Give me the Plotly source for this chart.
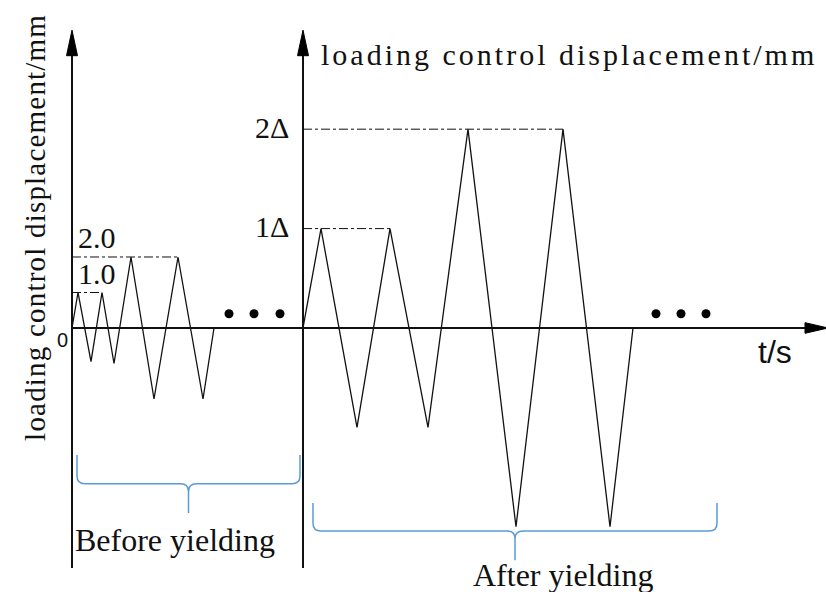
import plotly.graph_objects as go

# ---- loading protocol (schematic time axis, displacement in mm) ----
# before yielding: displacement-controlled cycles at 1.0 mm and 2.0 mm
pre_t = [0.0, 0.6, 1.9, 3.0, 4.2, 5.9, 8.2, 10.6, 13.1, 14.2]
pre_d = [0.0, 1.0, -0.95, 1.0, -1.0, 2.0, -2.0, 2.0, -2.0, 0.0]

# after yielding: cycles at multiples of the yield displacement Δ
DELTA = 2.8  # mm
post_t = [23.1, 24.9, 28.5, 31.8, 35.6, 39.6, 44.4, 49.1, 53.8, 56.1]
post_m = [0.0, 1.0, -1.0, 1.0, -1.0, 2.0, -2.0, 2.0, -2.0, 0.0]
post_d = [m * DELTA for m in post_m]

pre_levels = [1.0, 2.0]
pre_level_text = ["1.0", "2.0"]
post_levels = [1.0, 2.0]
post_level_text = ["1Δ", "2Δ"]

# continuation dots after each stage
pre_dots_t = [15.7, 18.2, 20.8]
post_dots_t = [58.4, 60.9, 63.4]
DOTS_Y = 0.4

# stages marked with braces below the curve
stage_names = ["Before yielding", "After yielding"]
stage_start = [0.5, 24.1]
stage_end = [22.8, 64.5]
stage_top = [-3.58, -4.93]
stage_bar = [-4.39, -5.72]
stage_stem = [-5.21, -6.54]
stage_label_t = [10.3, 49.1]
stage_label_y = [-5.97, -6.96]

# ---- frame ----
T0 = pre_t[0]           # left displacement axis
T1 = post_t[0]          # right displacement axis (yield point)
AX_TOP = 8.39
AX_BOTTOM = -6.76
T_END = 75.6
X_RANGE = [-7.2, 75.4]
Y_RANGE = [-7.437, 9.239]

INK = "#111111"
BRACE = "#5b9bd5"
SERIF = "Liberation Serif, Times New Roman, serif"
SANS = "Liberation Sans, Arial, sans-serif"

fig = go.Figure()

# waveforms
fig.add_trace(go.Scatter(x=pre_t, y=pre_d, mode="lines",
                         line=dict(color=INK, width=1.3), hoverinfo="skip"))
fig.add_trace(go.Scatter(x=post_t, y=post_d, mode="lines",
                         line=dict(color=INK, width=1.3), hoverinfo="skip"))

# continuation dots
fig.add_trace(go.Scatter(x=pre_dots_t + post_dots_t, y=[DOTS_Y] * 6, mode="markers",
                         marker=dict(color="black", size=9), hoverinfo="skip"))

shapes = []

# axes lines
for t_ax in (T0, T1):
    shapes.append(dict(type="line", xref="x", yref="y", x0=t_ax, x1=t_ax,
                       y0=AX_BOTTOM, y1=AX_TOP - 0.3, line=dict(color=INK, width=2)))
    hw, hh = 0.55, 0.72
    shapes.append(dict(type="path", xref="x", yref="y",
                       path=f"M{t_ax - hw},{AX_TOP - hh} L{t_ax},{AX_TOP} L{t_ax + hw},{AX_TOP - hh} Z",
                       fillcolor="black", line=dict(color="black", width=1)))
shapes.append(dict(type="line", xref="x", yref="y", x0=T0, x1=T_END - 1.0,
                   y0=0, y1=0, line=dict(color=INK, width=2)))
shapes.append(dict(type="path", xref="x", yref="y",
                   path=f"M{T_END - 2.3},{0.15} L{T_END},{0} L{T_END - 2.3},{-0.15} Z",
                   fillcolor="black", line=dict(color="black", width=1)))


def last_time_at(ts, ds, level):
    return max(t for t, d in zip(ts, ds) if abs(d - level) < 1e-9)


# dash-dot reference levels
for lv in pre_levels:
    shapes.append(dict(type="line", xref="x", yref="y", x0=T0,
                       x1=last_time_at(pre_t, pre_d, lv), y0=lv, y1=lv,
                       line=dict(color=INK, width=1, dash="dashdot")))
for lv in post_levels:
    yv = lv * DELTA
    shapes.append(dict(type="line", xref="x", yref="y", x0=T1,
                       x1=last_time_at(post_t, post_d, yv), y0=yv, y1=yv,
                       line=dict(color=INK, width=1, dash="dashdot")))

# braces
for a, b, top, bar, stem in zip(stage_start, stage_end, stage_top, stage_bar, stage_stem):
    m = (a + b) / 2
    rx, ry = 0.8, 0.22
    p = (f"M{a},{top} L{a},{bar + ry} Q{a},{bar} {a + rx},{bar} "
         f"L{m - rx},{bar} Q{m},{bar} {m},{bar - ry} L{m},{stem} "
         f"M{m},{bar - ry} Q{m},{bar} {m + rx},{bar} "
         f"L{b - rx},{bar} Q{b},{bar} {b},{bar + ry} L{b},{top}")
    shapes.append(dict(type="path", xref="x", yref="y", path=p,
                       line=dict(color=BRACE, width=1.5)))

ann = []
for lv, txt in zip(pre_levels, pre_level_text):
    ann.append(dict(x=T0 + 0.4, y=lv + 0.02, text=txt, xanchor="left", yanchor="bottom",
                    font=dict(family=SERIF, size=30, color=INK)))
for lv, txt in zip(post_levels, post_level_text):
    ann.append(dict(x=T1 - 1.2, y=lv * DELTA + 0.05, text=txt, xanchor="right", yanchor="middle",
                    font=dict(family=SERIF, size=30, color=INK)))
for name, tx, ty in zip(stage_names, stage_label_t, stage_label_y):
    ann.append(dict(x=tx, y=ty, text=name, xanchor="center", yanchor="middle",
                    font=dict(family=SERIF, size=32, color=INK)))

ann.append(dict(x=T1 + 1.6, y=7.69, xanchor="left", yanchor="middle",
                text='<span style="letter-spacing:3px">loading control displacement/mm</span>',
                font=dict(family=SERIF, size=30, color=INK)))
ann.append(dict(x=-3.7, y=2.82, textangle=-90, xanchor="center", yanchor="middle",
                text='<span style="letter-spacing:1.2px">loading control displacement/mm</span>',
                font=dict(family=SERIF, size=29, color=INK)))
ann.append(dict(x=-1.0, y=-0.34, text="0", xanchor="center", yanchor="middle",
                font=dict(family=SANS, size=20, color=INK)))
ann.append(dict(x=70.3, y=-0.68, text="t/s", xanchor="center", yanchor="middle",
                font=dict(family=SANS, size=32, color=INK)))

for a_ in ann:
    a_.update(xref="x", yref="y", showarrow=False)

fig.update_layout(
    width=826, height=592,
    margin=dict(l=0, r=0, t=0, b=0),
    paper_bgcolor="white", plot_bgcolor="white",
    showlegend=False,
    xaxis=dict(range=X_RANGE, visible=False, fixedrange=True),
    yaxis=dict(range=Y_RANGE, visible=False, fixedrange=True),
    shapes=shapes, annotations=ann,
)

fig.write_html("out.html")
